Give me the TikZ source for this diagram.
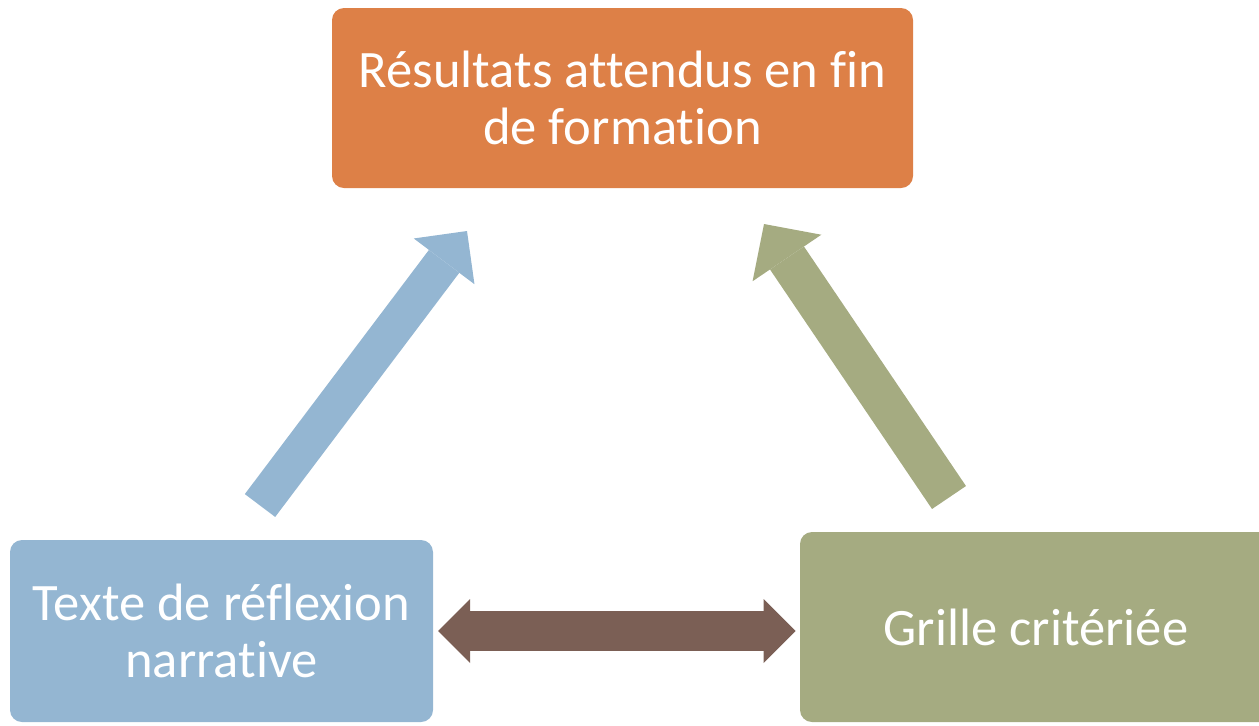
\documentclass[tikz,border=0pt]{standalone}
\usepackage{fontspec}
\setmainfont[Ligatures={NoCommon}]{Carlito}
\usetikzlibrary{arrows.meta}

\definecolor{boxorange}{HTML}{DD8047}
\definecolor{boxblue}{HTML}{94B6D2}
\definecolor{boxgreen}{HTML}{A5AB81}
\definecolor{arrowbrown}{HTML}{7B5F55}

\begin{document}
\begin{tikzpicture}[x=0.5pt, y=-0.5pt,
        box/.style={rounded corners=6pt, text=white, align=center, inner sep=0pt,
            font=\fontsize{26.3}{28.5}\selectfont}]
        \clip (0,0) rectangle (1259,725);

        \node[box, fill=boxorange, minimum width=290.5pt, minimum height=90pt]  (resultats) at (622.5,98)  {Résultats attendus en fin\\de formation};
        \node[box, fill=boxblue, minimum width=211.5pt, minimum height=91pt]    (texte)     at (221.5,631) {Texte de réflexion\\narrative};
        \node[box, fill=boxgreen, minimum width=236pt, minimum height=95pt]     (grille)    at (1036,627)  {Grille critériée};

        \coordinate (blue tail)  at (260,505.5);
        \coordinate (blue tip)   at (467,231);
        \coordinate (green tail) at (949,497.5);
        \coordinate (green tip)  at (764,224);

        \draw[boxblue, line width=19pt, -{Triangle[length=19pt, width=38pt, line width=0pt]}] (blue tail) -- (blue tip);
        \draw[boxgreen, line width=20.5pt, -{Triangle[length=20.5pt, width=41.5pt, line width=0pt]}] (green tail) -- (green tip);
        \draw[arrowbrown, line width=20pt, {Triangle[length=16pt, width=32pt, line width=0pt]}-{Triangle[length=16pt, width=32pt, line width=0pt]},
            shorten <=2.4pt, shorten >=2pt] (texte.east) -- (texte.east -| grille.west);
\end{tikzpicture}
\end{document}
